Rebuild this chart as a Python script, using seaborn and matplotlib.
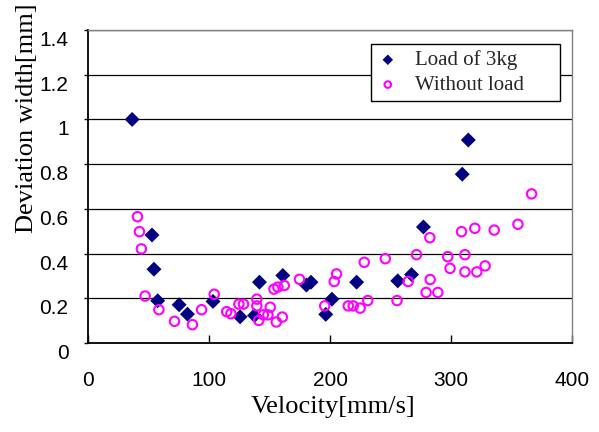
import matplotlib
matplotlib.use("Agg")
import matplotlib.pyplot as plt
import matplotlib.transforms as mtransforms
import seaborn as sns

# Load of 3kg (filled diamonds)
load_v = [36.5, 52.9, 54.5, 57.6, 75.3, 82.2, 103.3, 125.7, 137.6, 141.7, 161.0,
          180.5, 184.3, 196.5, 201.6, 222.0, 256.0, 267.4, 277.2, 309.3, 314.3]
load_d = [1.00, 0.483, 0.33, 0.189, 0.171, 0.129, 0.186, 0.117, 0.123, 0.272, 0.302,
          0.259, 0.272, 0.128, 0.196, 0.272, 0.278, 0.306, 0.519, 0.755, 0.908]

# Without load (open circles)
free_v = [40.9, 42.5, 44.1, 47.2, 58.6, 71.5, 86.3, 93.9, 104.3, 114.6, 118.1,
          124.7, 128.5, 139.5, 139.5, 141.1, 144.9, 148.7, 150.6, 153.7, 156.9,
          155.6, 160.6, 162.2, 174.8, 195.6, 203.5, 205.4, 215.1, 219.2, 224.9,
          228.3, 231.2, 245.7, 255.4, 264.6, 271.5, 279.4, 282.5, 282.8, 289.1,
          297.3, 299.2, 308.7, 311.5, 311.5, 319.7, 321.3, 328.2, 335.7, 355.3, 366.6]
free_d = [0.565, 0.498, 0.421, 0.21, 0.149, 0.097, 0.082, 0.149, 0.218, 0.14, 0.131,
          0.174, 0.174, 0.196, 0.166, 0.101, 0.126, 0.126, 0.16, 0.241, 0.25,
          0.094, 0.116, 0.257, 0.285, 0.166, 0.275, 0.309, 0.166, 0.166, 0.156,
          0.361, 0.19, 0.377, 0.19, 0.275, 0.395, 0.226, 0.471, 0.284, 0.226,
          0.386, 0.334, 0.498, 0.395, 0.318, 0.513, 0.318, 0.345, 0.505, 0.531, 0.667]

x_ticks = [0, 100, 200, 300, 400]
y_ticks = [0, 0.2, 0.4, 0.6, 0.8, 1.0, 1.2, 1.4]
y_labels = ["0", "0.2", "0.4", "0.6", "0.8", "1", "1.2", "1.4"]

sns.set_theme(style="white")
plt.rcParams["font.family"] = ["Liberation Serif", "DejaVu Serif"]

fig = plt.figure(figsize=(5.99, 4.32), dpi=100)
ax = fig.add_axes([88 / 599, 1 - 343 / 432, 484 / 599, 313 / 432])

sns.scatterplot(x=load_v, y=load_d, ax=ax, marker="D", s=58, color="#000080",
                edgecolor="none", linewidth=0, label="Load of 3kg", zorder=3)
sns.scatterplot(x=free_v, y=free_d, ax=ax, marker="o", s=46, facecolors="none",
                edgecolor="#FF00FF", linewidth=1.5, label="Without load", zorder=3)

ax.set_xlim(0, 400)
ax.set_ylim(0, 1.4)
ax.set_xticks(x_ticks)
ax.set_yticks(y_ticks)
ax.set_yticklabels(y_labels)

ax.yaxis.grid(True, color="black", linewidth=0.9)
ax.xaxis.grid(False)
ax.set_axisbelow(True)

for side in ["left", "bottom"]:
    ax.spines[side].set_color("black")
    ax.spines[side].set_linewidth(1.3)
for side in ["top", "right"]:
    ax.spines[side].set_color("#808080")
    ax.spines[side].set_linewidth(1.0)

tick_font = {"family": "Liberation Sans", "size": 15}
ax.tick_params(axis="x", direction="in", length=6, width=1, color="black", pad=20,
               bottom=True)
ax.tick_params(axis="y", direction="out", length=3, width=1, color="black", pad=11,
               left=True)
for lab in ax.get_xticklabels() + ax.get_yticklabels():
    lab.set_fontfamily(tick_font["family"])
    lab.set_fontsize(tick_font["size"])
    lab.set_color("black")

# Excel puts the value labels a bit below their gridlines
shift = mtransforms.ScaledTranslation(0, -0.085, fig.dpi_scale_trans)
for lab in ax.get_yticklabels():
    lab.set_transform(lab.get_transform() + shift)

ax.set_xlabel("Velocity[mm/s]", fontsize=19, color="black")
ax.set_ylabel("Deviation width[mm]", fontsize=19, color="black")
ax.xaxis.set_label_coords(0.506, -0.168)
ax.yaxis.label.set_verticalalignment("center")
ax.yaxis.set_label_coords(-0.127, 0.717)

leg = ax.legend(loc="upper left", bbox_to_anchor=(0.585, 0.762, 0.39, 0.193),
                mode="expand", borderaxespad=0, fontsize=15, markerscale=0.7,
                frameon=True, fancybox=False, shadow=False, handletextpad=0.8,
                borderpad=0.3, labelspacing=0.25, handlelength=1.0)
leg.get_frame().set_edgecolor("black")
leg.get_frame().set_linewidth(1.0)
leg.get_frame().set_facecolor("white")
leg.get_frame().set_alpha(1)

fig.savefig("out.png", dpi=100)
